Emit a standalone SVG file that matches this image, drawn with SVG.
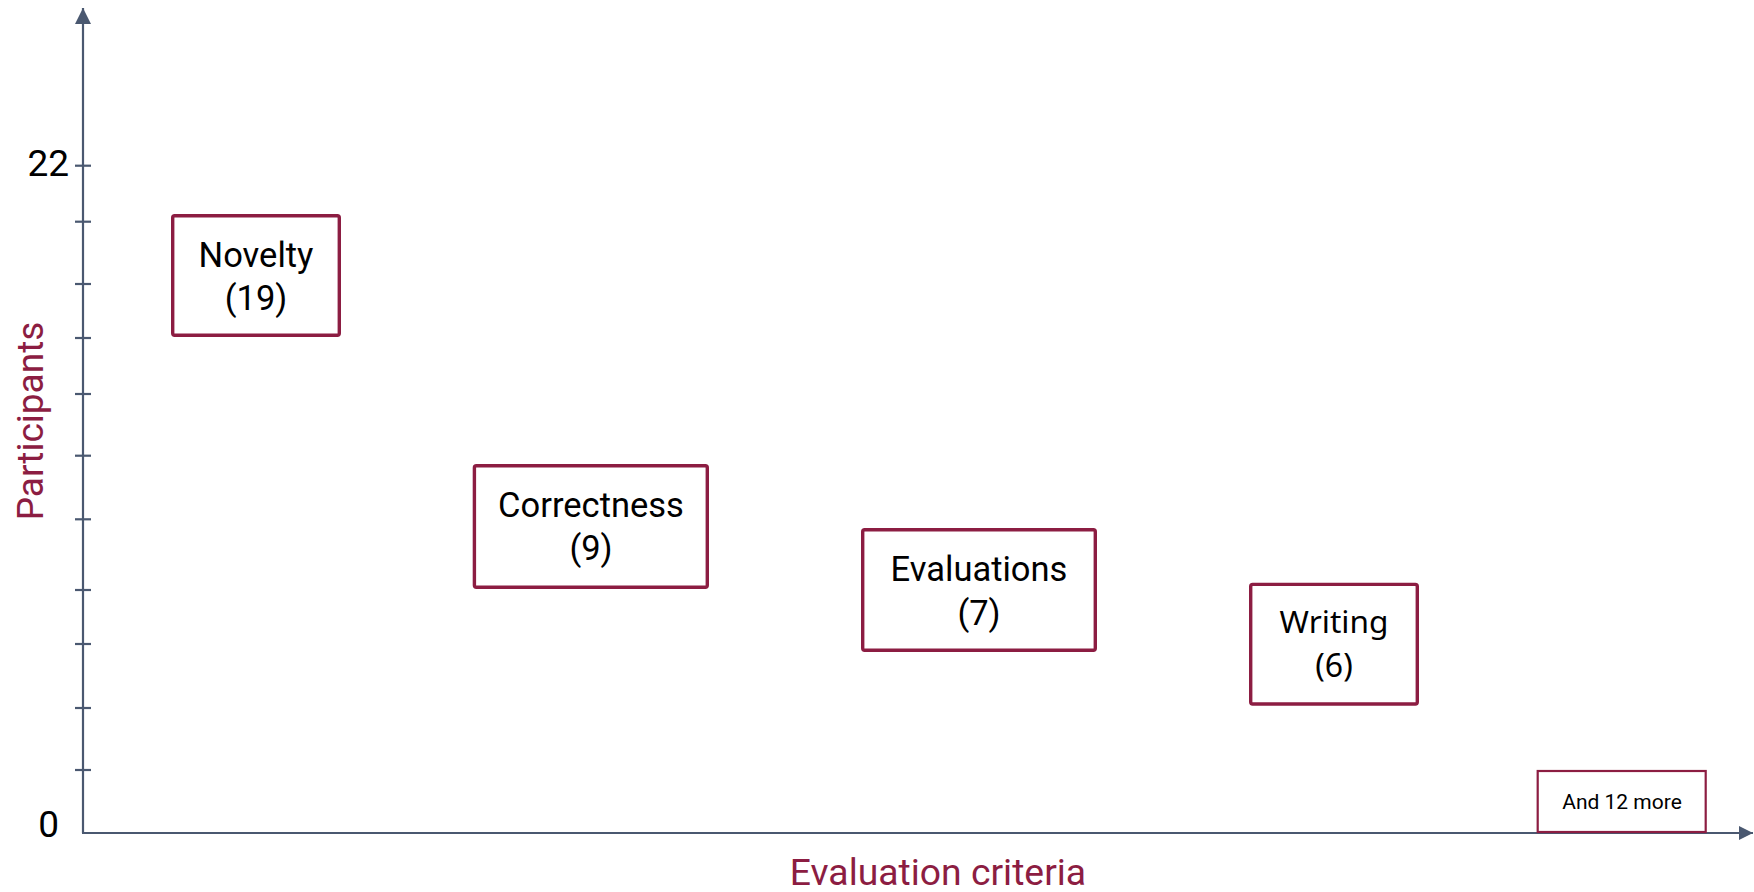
<svg xmlns="http://www.w3.org/2000/svg" width="1754" height="892" viewBox="0 0 1754 892">
<style>
.axis{stroke:#4A5870;stroke-width:2.2;fill:none}
.tick{stroke:#4A5870;stroke-width:2.2}
.box{fill:#fff;stroke:#8C1D42;stroke-width:3.4}
.boxs{fill:#fff;stroke:#8C1D42;stroke-width:2.2}
.lbl{font-family:Roboto,"Liberation Sans",sans-serif;font-size:34.5px;fill:#000;text-anchor:middle}
.num{font-family:Roboto,"Liberation Sans",sans-serif;font-size:37px;fill:#000;text-anchor:end}
.title{font-family:Roboto,"Liberation Sans",sans-serif;font-size:37.3px;fill:#8C1D42;text-anchor:middle}
</style>
<defs>
<marker id="arr" viewBox="0 0 14 14" refX="14" refY="7" markerWidth="14" markerHeight="14" markerUnits="userSpaceOnUse" orient="auto">
<path d="M0,0 L14,7 L0,14 Z" fill="#4A5870"/>
</marker>
<marker id="arrY" viewBox="0 0 16 16" refX="16" refY="8" markerWidth="16" markerHeight="16" markerUnits="userSpaceOnUse" orient="auto">
<path d="M0,0 L16,8 L0,16 Z" fill="#4A5870"/>
</marker>
</defs>
<g id="connectors">
<line class="axis" x1="83" y1="833" x2="83" y2="8" marker-end="url(#arrY)"/>
<line class="axis" x1="82" y1="833" x2="1753" y2="833" marker-end="url(#arr)"/>
<g id="ticks">
<line class="tick" x1="75" y1="165.7" x2="91" y2="165.7"/>
<line class="tick" x1="75" y1="221.7" x2="91" y2="221.7"/>
<line class="tick" x1="75" y1="284" x2="91" y2="284"/>
<line class="tick" x1="75" y1="338" x2="91" y2="338"/>
<line class="tick" x1="75" y1="394" x2="91" y2="394"/>
<line class="tick" x1="75" y1="455.7" x2="91" y2="455.7"/>
<line class="tick" x1="75" y1="519.3" x2="91" y2="519.3"/>
<line class="tick" x1="75" y1="590" x2="91" y2="590"/>
<line class="tick" x1="75" y1="644" x2="91" y2="644"/>
<line class="tick" x1="75" y1="708" x2="91" y2="708"/>
<line class="tick" x1="75" y1="770" x2="91" y2="770"/>
</g>
</g>
<g id="axis-labels">
<text class="num" x="69" y="176">22</text>
<text class="num" x="59" y="837">0</text>
<text class="title" transform="translate(43,421) rotate(-90)" style="font-size:37px">Participants</text>
<text class="title" x="938" y="885">Evaluation criteria</text>
</g>
<g id="novelty">
<rect class="box" x="172.7" y="215.7" width="166.6" height="119.6" rx="2"/>
<text class="lbl" x="256" y="267">Novelty</text>
<text class="lbl" x="256" y="310">(19)</text>
</g>
<g id="correctness">
<rect class="box" x="474.4" y="465.7" width="232.9" height="121.6" rx="2"/>
<text class="lbl" x="591" y="517">Correctness</text>
<text class="lbl" x="591" y="560">(9)</text>
</g>
<g id="evaluations">
<rect class="box" x="862.7" y="529.7" width="232.6" height="120.6" rx="2"/>
<text class="lbl" x="979" y="581">Evaluations</text>
<text class="lbl" x="979" y="625">(7)</text>
</g>
<g id="writing">
<rect class="box" x="1250.7" y="584.4" width="166.6" height="119.6" rx="2"/>
<text class="lbl" x="1334" y="633" style="font-family:'Noto Sans',Roboto,sans-serif;font-size:31.6px">Writing</text>
<text class="lbl" x="1334" y="677" style="font-family:'Noto Sans',Roboto,sans-serif;font-size:32px">(6)</text>
</g>
<g id="more">
<rect class="boxs" x="1537.7" y="771" width="168" height="61"/>
<text class="lbl" x="1622" y="809" style="font-size:21px">And 12 more</text>
</g>
</svg>
